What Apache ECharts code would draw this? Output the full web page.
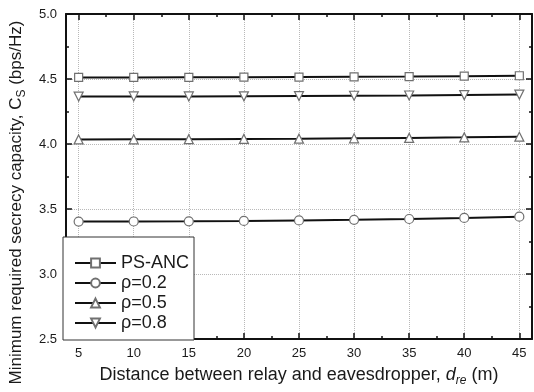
<!DOCTYPE html>
<html>
<head>
<meta charset="utf-8">
<script src="https://cdn.jsdelivr.net/npm/echarts@6/dist/echarts.min.js"></script>
<style>
html,body{margin:0;padding:0;background:#fff;}
#chart{width:534px;height:392px;}
</style>
</head>
<body>
<div id="chart"></div>
<script>
const distances = [5, 10, 15, 20, 25, 30, 35, 40, 45];
const psAnc = [4.512, 4.512, 4.513, 4.514, 4.515, 4.517, 4.519, 4.522, 4.525];
const rho02 = [3.403, 3.404, 3.405, 3.408, 3.412, 3.417, 3.423, 3.431, 3.441];
const rho05 = [4.035, 4.036, 4.037, 4.039, 4.041, 4.044, 4.047, 4.051, 4.056];
const rho08 = [4.365, 4.366, 4.366, 4.367, 4.369, 4.371, 4.373, 4.376, 4.380];
const seriesNames = ['PS-ANC', 'ρ=0.2', 'ρ=0.5', 'ρ=0.8'];
const seriesValues = [psAnc, rho02, rho05, rho08];
const symbols = ['rect', 'circle', 'triangle', 'triangle'];
const rotations = [0, 0, 0, 180];

const FONT = '"Liberation Sans", Arial, sans-serif';
const TXT = '#1a1a1a';

function pairs(vals) { return distances.map((d, i) => [d, vals[i]]); }

const tickCommon = {
  axisLine: { show: true, onZero: false, lineStyle: { color: '#111', width: 2 } },
  axisTick: { show: true, inside: true, length: 6, lineStyle: { color: '#111', width: 1.5 } },
  minorTick: { show: true, splitNumber: 2, length: 3, lineStyle: { color: '#111', width: 1.5 } }
};

const xBase = {
  type: 'value', min: 3.85, max: 46.15, splitNumber: 8,
  ...tickCommon
};
const yBase = {
  type: 'value', min: 2.5, max: 5.0, interval: 0.5,
  ...tickCommon
};

const chart = echarts.init(document.getElementById('chart'), null, { renderer: 'canvas' });
chart.setOption({
  animation: false,
  backgroundColor: '#fff',
  textStyle: { fontFamily: FONT },
  grid: { left: 63, right: 2, top: 14, bottom: 51, containLabel: false },
  xAxis: [
    Object.assign({}, xBase, {
      position: 'bottom',
      axisLabel: {
        show: true, margin: 8, color: TXT, fontSize: 13, fontFamily: FONT,
        showMinLabel: false, showMaxLabel: false,
        formatter: v => (Math.abs(v % 5) < 1e-6 ? String(Math.round(v)) : '')
      },
      splitLine: { show: true, lineStyle: { color: '#b8b8b8', type: 'dotted', width: 1 } },
      name: '{t|Distance between relay and eavesdropper, }{i|d}{s|re}{t| (m)}',
      nameLocation: 'middle', nameGap: 24,
      nameTextStyle: {
        rich: {
          t: { fontSize: 18, fontFamily: FONT, color: TXT, lineHeight: 24 },
          i: { fontSize: 18, fontFamily: FONT, color: TXT, fontStyle: 'italic', lineHeight: 24 },
          s: { fontSize: 12, fontFamily: FONT, color: TXT, fontStyle: 'italic', lineHeight: 13, verticalAlign: 'bottom' }
        }
      }
    }),
    Object.assign({}, xBase, {
      position: 'top',
      axisLabel: { show: false },
      splitLine: { show: false }
    })
  ],
  yAxis: [
    Object.assign({}, yBase, {
      position: 'left',
      axisLabel: {
        show: true, margin: 9, color: TXT, fontSize: 13, fontFamily: FONT,
        formatter: v => v.toFixed(1)
      },
      splitLine: { show: true, lineStyle: { color: '#b8b8b8', type: 'dotted', width: 1 } },
      name: '{t|Minimum required secrecy capacity, }{t|C}{s|S}{t| (bps/Hz)}',
      nameLocation: 'middle', nameGap: 23,
      nameTextStyle: {
        padding: [0, 52, 0, 0],
        rich: {
          t: { fontSize: 17, fontFamily: FONT, color: TXT, lineHeight: 23 },
          s: { fontSize: 12, fontFamily: FONT, color: TXT, lineHeight: 13, verticalAlign: 'bottom' }
        }
      }
    }),
    Object.assign({}, yBase, {
      position: 'right',
      axisLabel: { show: false },
      splitLine: { show: false }
    })
  ],
  legend: {
    orient: 'vertical',
    left: 63, top: 237,
    backgroundColor: '#fff',
    borderColor: '#333', borderWidth: 1, borderRadius: 0,
    padding: [17, 5, 8, 11],
    itemWidth: 41, itemHeight: 11, itemGap: 2,
    itemTextGap: 3,
    textStyle: { fontSize: 18, fontFamily: FONT, color: TXT },
    data: seriesNames
  },
  series: seriesNames.map((name, k) => ({
    name: name,
    type: 'line',
    data: pairs(seriesValues[k]),
    xAxisIndex: 0, yAxisIndex: 0,
    symbol: symbols[k],
    symbolRotate: rotations[k],
    symbolSize: k === 0 ? 8 : 9,
    showAllSymbol: true,
    lineStyle: { color: '#111', width: 2 },
    itemStyle: { color: '#fff', borderColor: '#707070', borderWidth: 1.2 },
    emphasis: { disabled: true },
    z: 3
  }))
});
</script>
</body>
</html>
